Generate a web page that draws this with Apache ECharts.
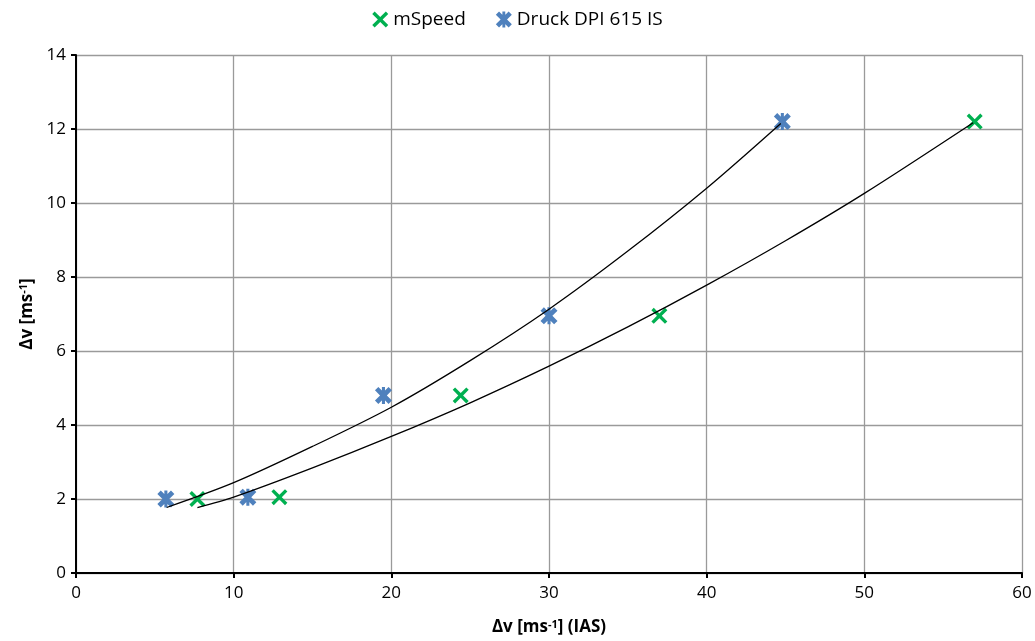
<!DOCTYPE html>
<html lang="en">
<head>
    <meta charset="UTF-8">
    <title>Δv</title>
    <style>
        html, body { margin: 0; padding: 0; background: #fff; }
        #chart { width: 1035px; height: 641px; }
    </style>
</head>
<body>
    <div id="chart"></div>
</body>
<script src="https://cdn.jsdelivr.net/npm/echarts@6/dist/echarts.min.js"></script>
<script>
    // measured points
    var mSpeedX = [7.7, 12.9, 24.4, 37.0, 57.0];
    var mSpeedY = [2.0, 2.05, 4.8, 6.95, 12.2];
    var druckX = [5.7, 10.9, 19.5, 30.0, 44.8];
    var druckY = [2.0, 2.05, 4.8, 6.95, 12.2];

    // trend lines
    var mSpeedTrendX = [7.7, 10, 15, 20, 25, 30, 35, 40, 45, 50, 56.9];
    var mSpeedTrendY = [1.77, 2.05, 2.84, 3.69, 4.6, 5.59, 6.65, 7.78, 8.98, 10.26, 12.17];
    var druckTrendX = [5.75, 10, 15, 20, 25, 30, 35, 40, 44.7];
    var druckTrendY = [1.77, 2.44, 3.42, 4.48, 5.74, 7.13, 8.7, 10.40, 12.15];

    var xTicks = [0, 10, 20, 30, 40, 50, 60];
    var yTicks = [0, 2, 4, 6, 8, 10, 12, 14];

    function pairs(xs, ys) {
        return xs.map(function (x, i) { return [x, ys[i]]; });
    }

    var FONT = 'Open Sans';
    var GREEN = '#00B050';
    var BLUE = '#4F81BD';
    // x cross and asterisk markers
    var crossPath = 'path://M0,1.5 L1.5,0 L5,3.5 L8.5,0 L10,1.5 L6.5,5 L10,8.5 L8.5,10 L5,6.5 L1.5,10 L0,8.5 L3.5,5 Z';
    var starPath = 'path://M0,2 L2,0 L5,3 L8,0 L10,2 L7,5 L10,8 L8,10 L5,7 L2,10 L0,8 L3,5 Z M4.1,0 L5.9,0 L5.9,10 L4.1,10 Z';

    var titleRich = {
        t: { fontFamily: FONT, fontSize: 17, fontWeight: 'bold', color: '#000' },
        s: { fontFamily: FONT, fontSize: 11, fontWeight: 'bold', color: '#000', verticalAlign: 'top', padding: [0, 0, 6, 0] }
    };

    var chart = echarts.init(document.getElementById('chart'));
    var option = {
        animation: false,
        backgroundColor: '#fff',
        legend: {
            top: 5,
            left: 'center',
            itemWidth: 16,
            itemHeight: 16,
            itemGap: 30,
            textStyle: { fontFamily: FONT, fontSize: 19, color: '#000' },
            data: [
                { name: 'mSpeed', icon: crossPath },
                { name: 'Druck DPI 615 IS', icon: starPath }
            ]
        },
        grid: { left: 76, right: 13, top: 55, bottom: 68 },
        xAxis: {
            type: 'value',
            min: xTicks[0],
            max: xTicks[xTicks.length - 1],
            interval: 10,
            name: '{t|Δv [ms}{s|-1}{t|] (IAS)}',
            nameLocation: 'middle',
            nameGap: 46,
            nameTextStyle: { rich: titleRich },
            axisLine: { lineStyle: { color: '#000', width: 2 } },
            axisTick: { show: true, length: 5, lineStyle: { color: '#000', width: 2 } },
            axisLabel: { fontFamily: FONT, fontSize: 17, color: '#000', margin: 12 },
            splitLine: { lineStyle: { color: '#9a9a9a', width: 1.3 } }
        },
        yAxis: {
            type: 'value',
            min: yTicks[0],
            max: yTicks[yTicks.length - 1],
            interval: 2,
            name: '{t|Δv [ms}{s|-1}{t|]}',
            nameLocation: 'middle',
            nameGap: 40,
            nameTextStyle: { rich: titleRich },
            axisLine: { show: true, lineStyle: { color: '#000', width: 2 } },
            axisTick: { show: true, length: 5, lineStyle: { color: '#000', width: 2 } },
            axisLabel: { fontFamily: FONT, fontSize: 17, color: '#000', margin: 10 },
            splitLine: { lineStyle: { color: '#9a9a9a', width: 1.3 } }
        },
        series: [{
            name: 'mSpeed trend',
            type: 'line',
            smooth: 0.3,
            showSymbol: false,
            silent: true,
            lineStyle: { color: '#000', width: 1.3 },
            data: pairs(mSpeedTrendX, mSpeedTrendY)
        }, {
            name: 'Druck trend',
            type: 'line',
            smooth: 0.3,
            showSymbol: false,
            silent: true,
            lineStyle: { color: '#000', width: 1.3 },
            data: pairs(druckTrendX, druckTrendY)
        }, {
            name: 'mSpeed',
            type: 'scatter',
            symbol: crossPath,
            symbolSize: 16,
            itemStyle: { color: GREEN, opacity: 1 },
            data: pairs(mSpeedX, mSpeedY)
        }, {
            name: 'Druck DPI 615 IS',
            type: 'scatter',
            symbol: starPath,
            symbolSize: 17,
            itemStyle: { color: BLUE, opacity: 1 },
            data: pairs(druckX, druckY)
        }]
    };
    chart.setOption(option);
</script>
</html>
